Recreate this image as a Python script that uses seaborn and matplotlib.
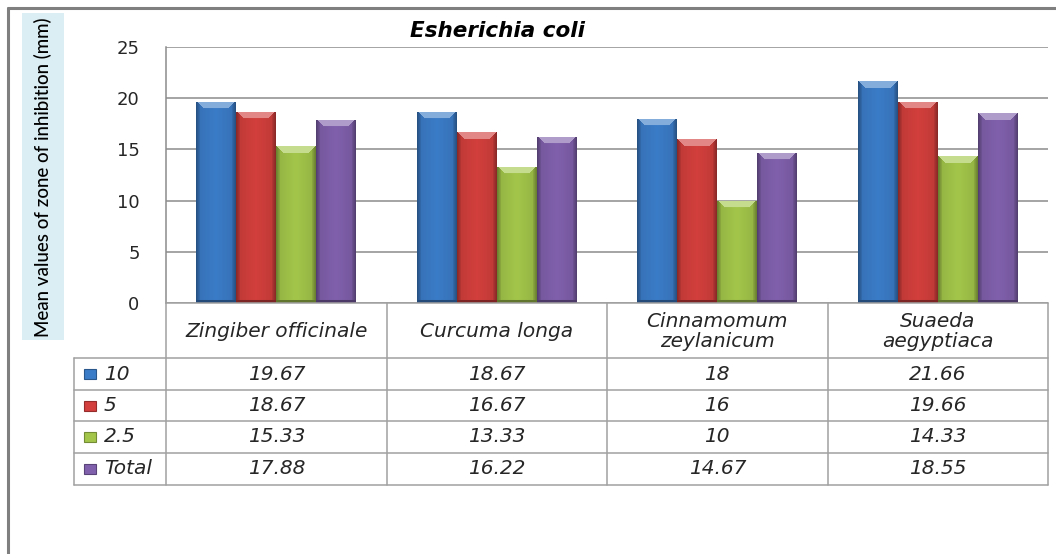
import numpy as np
import pandas as pd
import seaborn as sns
import matplotlib
matplotlib.use("Agg")
import matplotlib.pyplot as plt
import matplotlib.colors as mcolors
from matplotlib.patches import Rectangle
from matplotlib.lines import Line2D
from matplotlib.transforms import blended_transform_factory

# ---- data -------------------------------------------------------------
plants = ["Zingiber officinale", "Curcuma longa",
          "Cinnamomum zeylanicum", "Suaeda aegyptiaca"]
plant_headers = ["Zingiber officinale", "Curcuma longa",
                 "Cinnamomum\nzeylanicum", "Suaeda\naegyptiaca"]
concentrations = ["10", "5", "2.5", "Total"]
conc_10 = [19.67, 18.67, 18, 21.66]
conc_5 = [18.67, 16.67, 16, 19.66]
conc_2_5 = [15.33, 13.33, 10, 14.33]
conc_total = [17.88, 16.22, 14.67, 18.55]
y_ticks = [0, 5, 10, 15, 20, 25]

series_values = [conc_10, conc_5, conc_2_5, conc_total]
bar_colors = ["#3b7cc8", "#d23f3c", "#a3c64a", "#8060ac"]

df = pd.DataFrame({
    "plant": plants * len(concentrations),
    "conc": [c for c in concentrations for _ in plants],
    "value": [v for vals in series_values for v in vals],
})

# ---- figure -----------------------------------------------------------
W, H = 1056, 554
sns.set_style("white")
plt.rcParams["font.family"] = ["DejaVu Sans"]
fig = plt.figure(figsize=(W / 100, H / 100), dpi=100)


def fx(px):
    return px / W


def fy(py):
    return 1 - py / H


ax = fig.add_axes([fx(166), fy(303), fx(1048) - fx(166), fy(47) - fy(303)])

sns.barplot(data=df, x="plant", y="value", hue="conc", order=plants,
            hue_order=concentrations, palette=bar_colors, width=0.725,
            gap=0, saturation=1, legend=False, ax=ax,
            edgecolor="none", linewidth=0, zorder=3)

ax.set_xlim(-0.5, len(plants) - 0.5)
ax.set_ylim(0, 25)
ax.set_yticks(y_ticks)
ax.set_yticklabels([str(t) for t in y_ticks], fontsize=13, color="#262626")
ax.set_xticks([])
ax.set_xlabel("")
ax.set_ylabel("")
ax.tick_params(axis="y", length=0, pad=19)
ax.yaxis.grid(True, color="#8c8c8c", linewidth=1.1, zorder=0)
ax.set_axisbelow(True)
for side in ["right", "top", "bottom"]:
    ax.spines[side].set_visible(False)
ax.spines["left"].set_color("#8c8c8c")
ax.spines["left"].set_linewidth(1.1)

# bevelled shading on each bar
fig.canvas.draw()
px_per_unit = (ax.transData.transform((0, 1))[1] - ax.transData.transform((0, 0))[1])
px_per_x = (ax.transData.transform((1, 0))[0] - ax.transData.transform((0, 0))[0])
for patch in list(ax.patches):
    x0, y0 = patch.get_x(), patch.get_y()
    w, h = patch.get_width(), patch.get_height()
    if h <= 0:
        continue
    base = np.array(mcolors.to_rgb(patch.get_facecolor()))
    nw = max(int(round(w * px_per_x)), 2)
    nh = max(int(round(h * px_per_unit)), 2)
    xs = np.arange(nw) + 0.5
    ys = np.arange(nh) + 0.5
    XX, YY = np.meshgrid(xs, ys)
    d_side = np.minimum(XX, nw - XX)
    d_top = YY
    factor = 1.0 - 0.10 * np.abs(XX - nw / 2) / (nw / 2)
    side_band = d_side < 4
    factor = np.where(side_band, factor * (0.70 + 0.06 * d_side), factor)
    top_band = (d_top < 7) & (d_top < d_side)
    img = np.clip(base[None, None, :] * factor[..., None], 0, 1)
    light = 1 - (1 - base) * 0.62
    img = np.where(top_band[..., None], light[None, None, :], img)
    bottom_band = (nh - YY) < 3
    img = np.where(bottom_band[..., None], base * 0.6, img)
    rgba = np.dstack([img, np.ones((nh, nw))])
    im = ax.imshow(rgba, extent=[x0, x0 + w, y0, y0 + h], origin="upper",
                   aspect="auto", interpolation="bilinear", zorder=3.5)
    im.set_clip_path(patch)
ax.set_xlim(-0.5, len(plants) - 0.5)
ax.set_ylim(0, 25)

# ---- title and y label ------------------------------------------------
fig.text(fx(498), fy(31), "Esherichia coli", ha="center", va="center",
         fontsize=15.5, fontweight="bold", fontstyle="italic", color="black")

fig.patches.append(Rectangle((fx(22), fy(340)), fx(64) - fx(22), fy(13) - fy(340),
                             transform=fig.transFigure, facecolor="#dbeef4",
                             edgecolor="none", zorder=0))
fig.text(fx(43), fy(177), "Mean values of zone of inhibition (mm)",
         rotation=90, ha="center", va="center", fontsize=13.5,
         family=["Lato", "DejaVu Sans"], fontweight="medium", color="black")

# ---- outer frame ------------------------------------------------------
frame_kw = dict(transform=fig.transFigure, color="#7f7f7f", linewidth=2.2)
fig.add_artist(Line2D([fx(8), fx(1056)], [fy(8), fy(8)], **frame_kw))
fig.add_artist(Line2D([fx(8), fx(8)], [fy(8), fy(554)], **frame_kw))

# ---- data table under the plot ----------------------------------------
tr = blended_transform_factory(ax.transData, fig.transFigure)
grid_kw = dict(color="#a0a0a0", linewidth=1.1, clip_on=False)
n = len(plants)
row_edges = [358, 390, 421, 453, 485]
header_top = 303
legend_left_x = -0.5 - (166 - 74) / px_per_x

# horizontal lines
fig.add_artist(Line2D([-0.5, n - 0.5], [fy(header_top)] * 2, transform=tr, **grid_kw))
for ry in row_edges:
    fig.add_artist(Line2D([legend_left_x, n - 0.5], [fy(ry)] * 2, transform=tr, **grid_kw))
# vertical lines
for i in range(n + 1):
    fig.add_artist(Line2D([i - 0.5] * 2, [fy(header_top), fy(row_edges[-1])],
                          transform=tr, **grid_kw))
fig.add_artist(Line2D([legend_left_x] * 2, [fy(row_edges[0]), fy(row_edges[-1])],
                      transform=tr, **grid_kw))

# column headers
for i, name in enumerate(plant_headers):
    fig.text(i, fy((header_top + row_edges[0]) / 2 + 1), name, transform=tr,
             ha="center", va="center", fontsize=14.5, fontstyle="italic",
             color="#262626", linespacing=1.05)

# rows: legend key, label and values
icon_w = 12 / px_per_x
for r, (label, vals, col) in enumerate(zip(concentrations, series_values, bar_colors)):
    yc = (row_edges[r] + row_edges[r + 1]) / 2
    key = Rectangle((legend_left_x + 10 / px_per_x, fy(yc + 5)), icon_w, fy(yc - 5) - fy(yc + 5),
                    transform=tr, facecolor=col, edgecolor=mcolors.to_hex(
                        np.array(mcolors.to_rgb(col)) * 0.7), linewidth=0.8)
    fig.add_artist(key)
    fig.text(legend_left_x + 30 / px_per_x, fy(yc), label, transform=tr,
             ha="left", va="center", fontsize=14.5, fontstyle="italic",
             color="#262626")
    for i, v in enumerate(vals):
        fig.text(i, fy(yc), f"{v:g}", transform=tr, ha="center", va="center",
                 fontsize=14.5, fontstyle="italic", color="#262626")

fig.savefig("out.png", dpi=100)
